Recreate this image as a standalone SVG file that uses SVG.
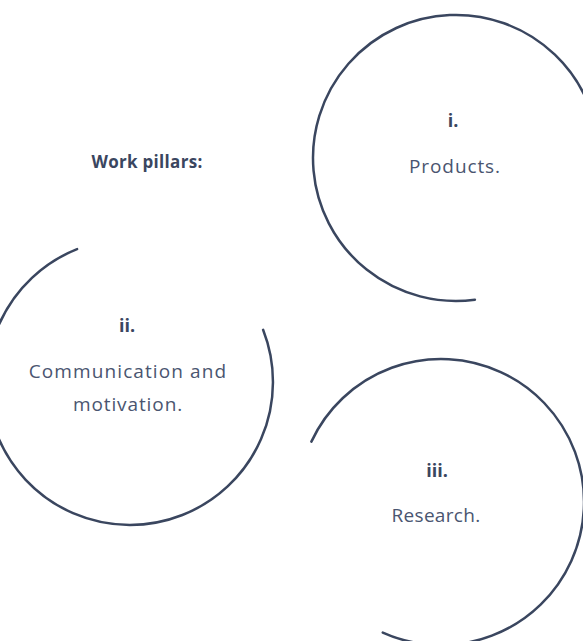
<svg xmlns="http://www.w3.org/2000/svg" width="583" height="641" viewBox="0 0 583 641">
<style>
.ring{fill:none;stroke:#3a465f;stroke-width:2.5;stroke-linecap:round}
.num{font-family:"Open Sans","Liberation Sans",sans-serif;font-weight:700;font-size:18px;fill:#3a465f;text-anchor:middle}
.lbl{font-family:"Open Sans","Liberation Sans",sans-serif;font-weight:400;font-size:19px;fill:#4a5570;text-anchor:middle}
.title{font-family:"Open Sans","Liberation Sans",sans-serif;font-weight:700;font-size:17px;fill:#3a465f;text-anchor:middle;letter-spacing:0.3px}
</style>
<rect width="583" height="641" fill="#ffffff"/>
<g id="title"><text class="title" x="147" y="168">Work pillars:</text></g>
<g id="pillar-1">
<path class="ring" d="M474.9,299.7 A143,143 0 1 1 599,158"/>
<text class="num" x="453" y="127">i.</text>
<text class="lbl" x="455" y="173" letter-spacing="0.9">Products.</text>
</g>
<g id="pillar-2">
<path class="ring" d="M263.1,329.8 A143,143 0 1 1 77.1,249.1"/>
<text class="num" x="127" y="332">ii.</text>
<text class="lbl" x="128" y="378" letter-spacing="1.1">Communication and</text>
<text class="lbl" x="128" y="411" letter-spacing="0.9">motivation.</text>
</g>
<g id="pillar-3">
<path class="ring" d="M311.4,441.6 A143,143 0 1 1 382.8,632.6"/>
<text class="num" x="437" y="477">iii.</text>
<text class="lbl" x="436" y="522" letter-spacing="0.3">Research.</text>
</g>
<g id="connectors"></g>
</svg>
